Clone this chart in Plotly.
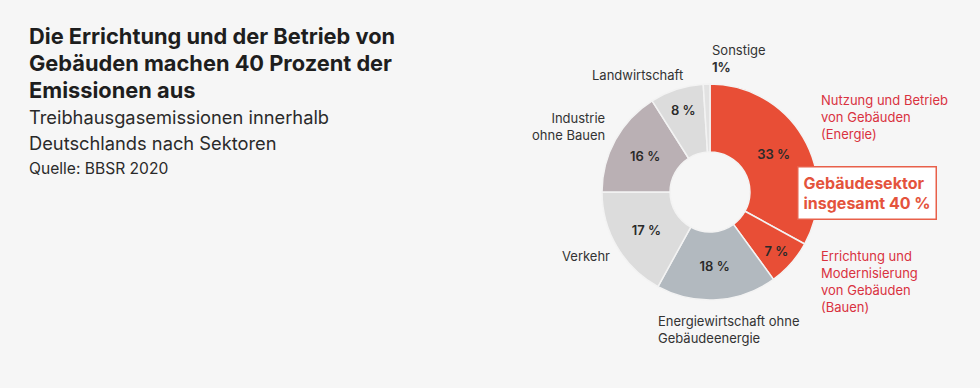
import plotly.graph_objects as go

sectors = ["Nutzung und Betrieb von Gebäuden (Energie)",
           "Errichtung und Modernisierung von Gebäuden (Bauen)",
           "Energiewirtschaft ohne Gebäudeenergie",
           "Verkehr",
           "Industrie ohne Bauen",
           "Landwirtschaft",
           "Sonstige"]
shares = [33, 7, 18, 17, 16, 8, 1]
slice_text = ["33 %", "7 %", "18 %", "17 %", "16 %", "8 %", ""]
colors = ["#e84e36", "#e84e36", "#b2b9bf", "#dcdcdc", "#bab0b4", "#dcdcdc", "#e2e2e2"]

BG = "#f6f6f6"
FONT = "Inter"
RED_TXT = "#d9323f"
GREY_TXT = "#333333"

fig = go.Figure()
fig.add_trace(go.Pie(
    labels=sectors, values=shares, text=slice_text,
    textinfo="text", textposition="inside", insidetextorientation="horizontal",
    textfont=dict(family=FONT, size=13, color="#2a2a2a", weight=600),
    marker=dict(colors=colors, line=dict(color="#f3f3f3", width=1.5)),
    hole=0.37, sort=False, direction="clockwise", rotation=0,
    domain=dict(x=[(710-108)/980, (710+108)/980], y=[1-(192+108)/388, 1-(192-108)/388]),
    showlegend=False, hoverinfo="label+value",
))

W, H = 980, 388
def px(x): return x / W
def py(y): return 1 - y / H

anns = []
def add(text, x, y, xanchor="left", yanchor="middle", color=GREY_TXT, size=13, align="left", weight=400):
    anns.append(dict(text=text, x=px(x), y=py(y), xref="paper", yref="paper",
                     xanchor=xanchor, yanchor=yanchor, showarrow=False, align=align,
                     font=dict(family=FONT, size=size, color=color, weight=weight)))

# Title block (one annotation per line for exact spacing)
title_lines = ["Die Errichtung und der Betrieb von", "Gebäuden machen 40 Prozent der", "Emissionen aus"]
for i, line in enumerate(title_lines):
    add(line, 27, 36 + 27 * i, color="#1e1e1e", size=21.8, weight=700)
sub_lines = ["Treibhausgasemissionen innerhalb", "Deutschlands nach Sektoren"]
for i, line in enumerate(sub_lines):
    add(line, 27, 117 + 26 * i, color="#2a2a2a", size=18.3)
add("Quelle: BBSR 2020", 27, 168, color="#2a2a2a", size=15.6)

# Outside labels
add("Sonstige<br><b>1%</b>", 710, 58, color=GREY_TXT)
add("Landwirtschaft", 637, 75, xanchor="center")
add("Industrie<br>ohne Bauen", 607, 127, xanchor="right", align="right")
add("Verkehr", 612, 256, xanchor="right", align="right")
add("Energiewirtschaft ohne<br>Gebäudeenergie", 656, 329)
add("Nutzung und Betrieb<br>von Gebäuden<br>(Energie)", 819, 117, color=RED_TXT)
add("Errichtung und<br>Modernisierung<br>von Gebäuden<br>(Bauen)", 819, 281, color=RED_TXT)

# Highlight box
anns.append(dict(text="Gebäudesektor<br>insgesamt 40 %", x=px(797), y=py(193), xref="paper", yref="paper",
                 xanchor="left", yanchor="middle", showarrow=False, align="left",
                 bgcolor="#ffffff", bordercolor="#e8604a", borderwidth=1.5, borderpad=5,
                 font=dict(family=FONT, size=16, color="#e4533c", weight=700)))

fig.update_layout(
    width=W, height=H,
    margin=dict(l=0, r=0, t=0, b=0),
    paper_bgcolor=BG, plot_bgcolor=BG,
    annotations=anns,
    font=dict(family=FONT),
)

fig.write_html("out.html", config={"displayModeBar": False},
               post_script="document.body.style.margin='0';document.body.style.background='#f6f6f6';")
